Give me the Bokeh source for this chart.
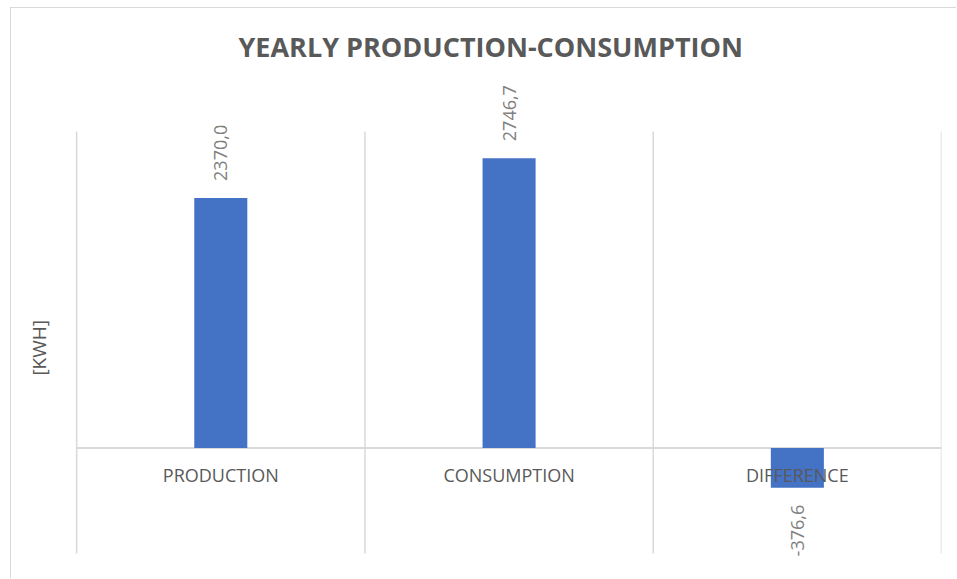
import math
import numpy as np
from bokeh.plotting import figure
from bokeh.models import ColumnDataSource, Range1d, LabelSet, Label
from bokeh.core.properties import value
from bokeh.embed import file_html
from bokeh.resources import INLINE

# ---- data ----
categories = ["PRODUCTION", "CONSUMPTION", "DIFFERENCE"]
values = [2370.0, 2746.7, -376.6]
title_text = "YEARLY PRODUCTION-CONSUMPTION"
y_label = "[KWH]"
y_axis_min, y_axis_max = -1000, 3000

value_labels = [f"{v:.1f}".replace(".", ",") for v in values]

# category slots: slot i occupies [i, i+1] on the x scale, bar in its middle
xpos = np.arange(len(categories)) + 0.5
bounds = np.arange(len(categories) + 1)

src = ColumnDataSource(dict(x=xpos, cat=categories, val=values, lab=value_labels,
                            zero=[0] * len(categories)))

FONT = "Open Sans"
DARK = "#595959"
GRID = "#d9d9d9"

p = figure(width=946, height=571, output_backend="svg", toolbar_location=None,
           x_range=Range1d(-0.226, 3.0),
           y_range=Range1d(-1246, 3521),
           x_axis_location=None, y_axis_location=None,
           min_border_left=0, min_border_right=16,
           min_border_top=68, min_border_bottom=0,
           background_fill_color="white", border_fill_color="white",
           outline_line_color=None)
p.margin = (7, 0, 0, 10)
p.styles = {"border-top": "1px solid #d9d9d9", "border-left": "1px solid #d9d9d9"}
p.xgrid.visible = False
p.ygrid.visible = False

p.title.text = title_text
p.title.text_font = FONT
p.title.text_font_size = "27px"
p.title.text_font_style = "bold"
p.title.text_color = DARK
p.title.align = "left"
p.title.offset = 227
p.title.standoff = 23

# category separators and zero line
p.segment(x0=bounds, y0=[y_axis_min] * len(bounds), x1=bounds,
          y1=[y_axis_max] * len(bounds), line_color=GRID, line_width=1.5)
p.segment(x0=[bounds[0]], y0=[0], x1=[bounds[-1]], y1=[0],
          line_color=GRID, line_width=2)

p.vbar(x="x", top="val", bottom=0, width=0.184, source=src,
       fill_color="#4472c4", line_color=None)

# axis title
p.add_layout(Label(x=-0.132, y=950, text=y_label,
                   angle=math.pi / 2, text_align="center", text_baseline="middle",
                   text_font=FONT, text_font_size="19px", text_color=DARK))

# category labels just below zero line
p.add_layout(LabelSet(x="x", y="zero", text="cat", source=src,
                      y_offset=-27, text_align="center", text_baseline="middle",
                      text_font=value(FONT), text_font_size=value("18px"),
                      text_color=value(DARK)))

# value labels, rotated
for xi, v, lab in zip(xpos, values, value_labels):
    p.add_layout(Label(x=float(xi), y=v, text=lab, angle=math.pi / 2,
                       y_offset=17 if v >= 0 else -17,
                       text_align="left" if v >= 0 else "right",
                       text_baseline="middle", text_font=FONT,
                       text_font_size="18px", text_color="#7f7f7f"))

open("out.html", "w").write(file_html(p, INLINE))
